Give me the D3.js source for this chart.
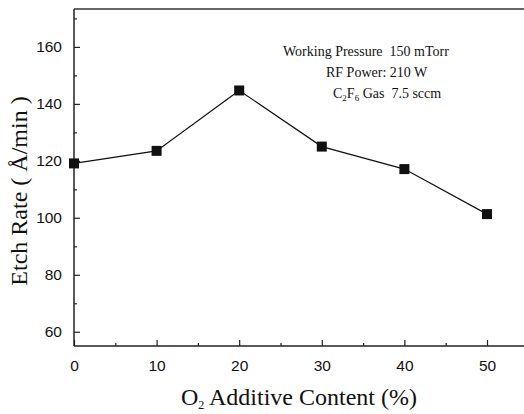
<!DOCTYPE html>
<html><head><meta charset="utf-8">
<script src="https://cdn.jsdelivr.net/npm/d3@7"></script>
<style>body{margin:0;background:#fff}svg{display:block}</style>
</head><body>
<svg id="c" width="524" height="414"></svg>
<script>
const o2Content = [0, 10, 20, 30, 40, 50];
const etchRate = [119.1, 123.5, 144.7, 125.0, 117.1, 101.3];
const xMajorTicks = [0, 10, 20, 30, 40, 50];
const xMinorTicks = [5, 15, 25, 35, 45];
const yMajorTicks = [60, 80, 100, 120, 140, 160];
const yMinorTicks = [70, 90, 110, 130, 150, 170];
const notes = ["Working Pressure\u00a0 150 mTorr", "RF Power: 210 W", "Gas\u00a0 7.5 sccm"];

const svg = d3.select("#c");
const L = 74, B = 346, T = 9, R = 524;
const x = d3.scaleLinear().domain([0, 55]).range([L, L + 55 * 8.26]);
const y = d3.scaleLinear().domain([55, 173.3]).range([B, T]);

const ink = "#111";
svg.append("line").attr("x1", L).attr("x2", R).attr("y1", T).attr("y2", T).attr("stroke", "#333").attr("stroke-width", 1.3);

const xAxis = svg.append("g").attr("transform", `translate(0,${B})`)
  .call(d3.axisBottom(x).tickValues(xMajorTicks).tickSizeInner(-6).tickSizeOuter(0).tickPadding(14).tickFormat(d3.format("d")));
svg.append("g").attr("transform", `translate(0,${B})`)
  .call(d3.axisBottom(x).tickValues(xMinorTicks).tickSizeInner(-3).tickSizeOuter(0).tickFormat(""))
  .select(".domain").remove();
const yAxis = svg.append("g").attr("transform", `translate(${L},0)`)
  .call(d3.axisLeft(y).tickValues(yMajorTicks).tickSizeInner(-6).tickSizeOuter(0).tickPadding(12).tickFormat(d3.format("d")));
svg.append("g").attr("transform", `translate(${L},0)`)
  .call(d3.axisLeft(y).tickValues(yMinorTicks).tickSizeInner(-3).tickSizeOuter(0).tickFormat(""))
  .select(".domain").remove();

svg.selectAll(".domain").attr("stroke", "#222").attr("stroke-width", 1.5);
svg.selectAll(".tick line").attr("stroke", "#222").attr("stroke-width", 1.2);
svg.selectAll(".tick text").attr("font-family", "Liberation Sans, Arial, sans-serif").attr("font-size", 15.5).attr("fill", ink);
xAxis.select(".domain").attr("d", `M${L},0H${R}`);
yAxis.select(".domain").attr("d", `M0,${B}V${T}`);

const line = d3.line().x((d, i) => x(o2Content[i])).y(d => y(d));
svg.append("path").datum(etchRate).attr("d", line).attr("fill", "none").attr("stroke", ink).attr("stroke-width", 1.2);
svg.selectAll("rect.m").data(etchRate).enter().append("rect").attr("class", "m")
  .attr("x", (d, i) => x(o2Content[i]) - 5).attr("y", d => y(d) - 5)
  .attr("width", 10).attr("height", 10).attr("fill", ink);

const serif = "Liberation Serif, Times New Roman, serif";
const xt = svg.append("text").attr("x", 299).attr("y", 405).attr("text-anchor", "middle")
  .attr("font-family", serif).attr("font-size", 24).attr("fill", ink);
xt.append("tspan").text("O");
xt.append("tspan").attr("font-size", 12).attr("dy", 4).text("2");
xt.append("tspan").attr("dy", -4).text(" Additive Content (%)");

svg.append("text").attr("transform", "translate(27,191) rotate(-90)").attr("text-anchor", "middle")
  .attr("font-family", serif).attr("font-size", 24).attr("fill", ink).text("Etch Rate ( Å/min )");

const ann = svg.append("g").attr("font-family", serif).attr("font-size", 14).attr("fill", ink);
ann.append("text").attr("x", 283).attr("y", 56).text(notes[0]);
ann.append("text").attr("x", 326).attr("y", 77).text(notes[1]);
const t3 = ann.append("text").attr("x", 333).attr("y", 98);
t3.append("tspan").text("C");
t3.append("tspan").attr("font-size", 9).attr("dy", 3).text("2");
t3.append("tspan").attr("dy", -3).text("F");
t3.append("tspan").attr("font-size", 9).attr("dy", 3).text("6");
t3.append("tspan").attr("dy", -3).text("\u00a0" + notes[2]);
</script>
</body></html>
